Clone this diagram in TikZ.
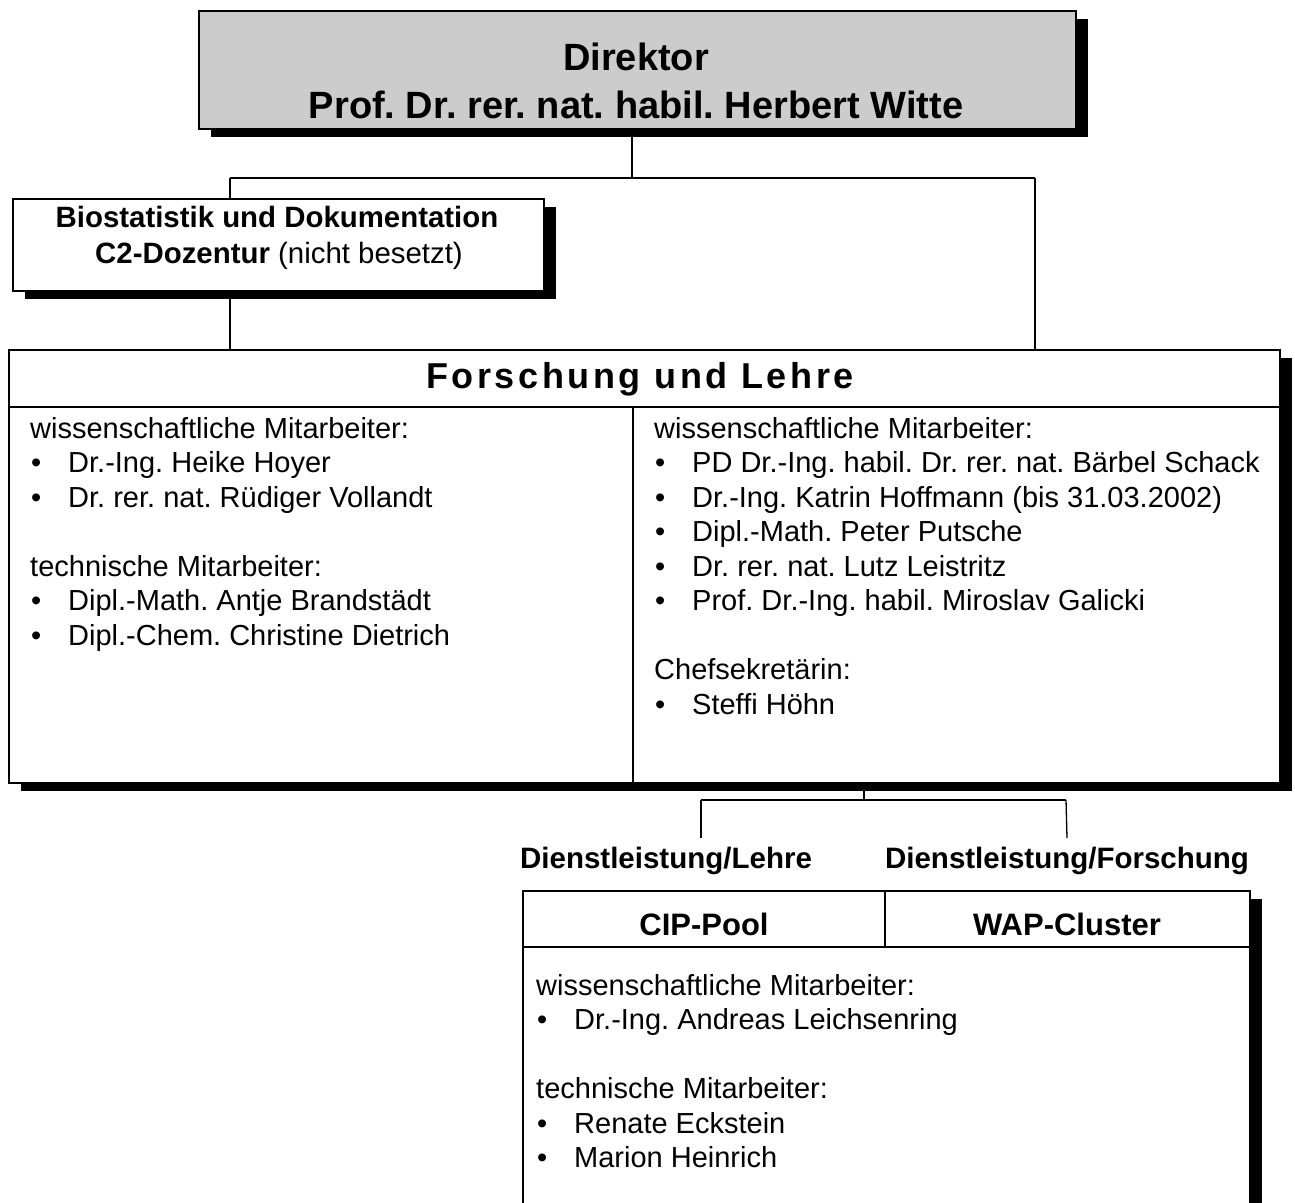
\documentclass[tikz,border=0pt]{standalone}
\usepackage{fontspec}
\setmainfont{Liberation Sans}
\usetikzlibrary{shadows}
\frenchspacing
\begin{document}
\begin{tikzpicture}[x=1pt,y=-1pt,
  boxstyle/.style={draw=black, line width=1.5pt, fill=white, anchor=north west, inner sep=0pt,
    drop shadow={shadow xshift=12pt, shadow yshift=-8pt, fill=black, opacity=1}},
  conn/.style={line width=1.3pt, draw=black},
  divider/.style={line width=1.5pt, draw=black},
  txt/.style={anchor=base west, inner sep=0pt, font=\fontsize{29}{34.5}\selectfont},
  bul/.style={anchor=base west, inner sep=0pt, font=\fontsize{29}{34.5}\selectfont},
  ctxt/.style={anchor=base, inner sep=0pt},
  hdr/.style={anchor=base, inner sep=0pt, font=\fontsize{29.5}{34}\selectfont\bfseries},
  colhdr/.style={anchor=base, inner sep=0pt, font=\fontsize{31}{36}\selectfont\bfseries}
]
\useasboundingbox (0,0) rectangle (1295,1202);

% ---------- boxes ----------
\node[boxstyle, fill={rgb,255:red,204;green,204;blue,204}, minimum width=877pt, minimum height=118pt] (dir) at (198,10) {};
\node[boxstyle, minimum width=531pt, minimum height=92pt] (bio) at (12,198) {};
\node[boxstyle, minimum width=1271pt, minimum height=433pt] (fl) at (8,349) {};
\begin{scope}
\clip (0,0) rectangle (1295,1202);
\node[boxstyle, minimum width=727pt, minimum height=340pt] (svc) at (522,890) {};
\draw[divider] (svc.west |- 0,947) -- (svc.east |- 0,947);
\draw[divider] (885,890) -- (885,947);
\end{scope}

% dividers in Forschung und Lehre
\draw[divider] (fl.west |- 0,407) -- (fl.east |- 0,407);
\draw[line width=2.6pt] (633,407) -- (633 ,782);

% ---------- texts ----------
\node[ctxt, font=\fontsize{38}{44}\selectfont\bfseries] (dirA) at (636,70) {Direktor};
\node[ctxt, font=\fontsize{38}{44}\selectfont\bfseries] (dirB) at (636,118) {Prof. Dr. rer. nat. habil. Herbert Witte};

\node[ctxt, font=\fontsize{29.4}{34}\selectfont\bfseries] (bioA) at (277,227) {Biostatistik und Dokumentation};
\node[ctxt, font=\fontsize{29.4}{34}\selectfont] (bioB) at (279,263) {\textbf{C2-Dozentur} (nicht besetzt)};

\node[ctxt, font=\fontsize{36}{40}\selectfont\bfseries\addfontfeature{LetterSpace=10}] (flT) at (640,388) {Forschung und Lehre};

% left column
\node[txt] (l1) at (30,438) {wissenschaftliche Mitarbeiter:};
\node[bul] (l2b) at (31,472.5) {•};
\node[txt] (l2) at (68,472.5) {Dr.-Ing. Heike Hoyer};
\node[bul] (l3b) at (31,507) {•};
\node[txt] (l3) at (68,507) {Dr. rer. nat. Rüdiger Vollandt};
\node[txt] (l4) at (30,576) {technische Mitarbeiter:};
\node[bul] (l5b) at (31,610.5) {•};
\node[txt] (l5) at (68,610.5) {Dipl.-Math. Antje Brandstädt};
\node[bul] (l6b) at (31,645) {•};
\node[txt] (l6) at (68,645) {Dipl.-Chem. Christine Dietrich};

% right column
\node[txt] (r1) at (654,438) {wissenschaftliche Mitarbeiter:};
\node[bul] (r2b) at (655,472.5) {•};
\node[txt] (r2) at (692,472.5) {PD Dr.-Ing. habil. Dr. rer. nat. Bärbel Schack};
\node[bul] (r3b) at (655,507) {•};
\node[txt] (r3) at (692,507) {Dr.-Ing. Katrin Hoffmann (bis 31.03.2002)};
\node[bul] (r4b) at (655,541.5) {•};
\node[txt] (r4) at (692,541.5) {Dipl.-Math. Peter Putsche};
\node[bul] (r5b) at (655,576) {•};
\node[txt] (r5) at (692,576) {Dr. rer. nat. Lutz Leistritz};
\node[bul] (r6b) at (655,610.5) {•};
\node[txt] (r6) at (692,610.5) {Prof. Dr.-Ing. habil. Miroslav Galicki};
\node[txt] (r7) at (654,679.5) {Chefsekretärin:};
\node[bul] (r8b) at (655,714) {•};
\node[txt] (r8) at (692,714) {Steffi Höhn};

% service labels
\node[hdr] (dlL) at (666,868) {Dienstleistung/Lehre};
\node[hdr] (dlF) at (1067,868) {Dienstleistung/Forschung};
\node[colhdr] (cip) at (704,935) {CIP-Pool};
\node[colhdr] (wap) at (1067,935) {WAP-Cluster};

% bottom box text
\node[txt] (s1) at (536,995) {wissenschaftliche Mitarbeiter:};
\node[bul] (s2b) at (537,1029.5) {•};
\node[txt] (s2) at (574,1029.5) {Dr.-Ing. Andreas Leichsenring};
\node[txt] (s3) at (536,1098.5) {technische Mitarbeiter:};
\node[bul] (s4b) at (537,1133) {•};
\node[txt] (s4) at (574,1133) {Renate Eckstein};
\node[bul] (s5b) at (537,1167.5) {•};
\node[txt] (s5) at (574,1167.5) {Marion Heinrich};

% ---------- connectors ----------
\coordinate (jt) at (632,178);
\coordinate (jl) at (230,178);
\coordinate (jr) at (1035,178);
\draw[conn] (dir.south -| jt) -- (jt);
\draw[conn] (jl) -- (jr);
\draw[conn] (jl) -- (jl |- bio.north);
\draw[conn] (jr) -- (jr |- fl.north);
\draw[conn] (bio.south -| jl) -- (fl.north -| jl);

\coordinate (jb) at (864,800);
\coordinate (jbl) at (701,800);
\coordinate (jbr) at (1066,800);
\coordinate (ebl) at (701,838);
\coordinate (ebr) at (1067,838);
\draw[conn] (fl.south -| jb) -- (jb);
\draw[conn] (jbl) -- (jbr);
\draw[conn] (jbl) -- (ebl);
\draw[conn] (jbr) -- (ebr);
\end{tikzpicture}
\end{document}
